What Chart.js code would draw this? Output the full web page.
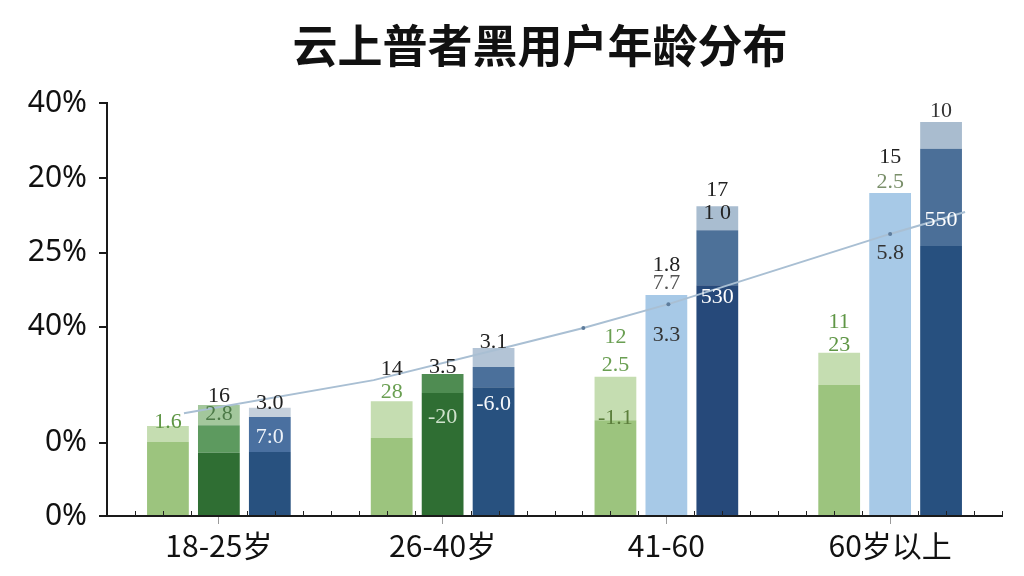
<!DOCTYPE html>
<html>
<head>
<meta charset="utf-8">
<script src="https://cdn.jsdelivr.net/npm/chart.js@4.4.1/dist/chart.umd.min.js"></script>
<style>
  html, body { margin: 0; padding: 0; background: #ffffff; }
  #wrap { width: 1024px; height: 576px; }
</style>
</head>
<body>
<div id="wrap"><canvas id="c" width="1024" height="576"></canvas></div>
<script>
// ---------------- data ----------------
const chartTitle = '云上普者黑用户年龄分布';
const categories = ['18-25岁', '26-40岁', '41-60', '60岁以上'];

// y axis tick values (0-100 axis units) and their printed labels
const tickValues = [0, 17.7, 45.8, 63.7, 81.8, 100];
const tickLabels = ['0%', '0%', '40%', '25%', '20%', '40%'];

// bar A (first bar of each group)
const barABase = [17.9, 18.9, 23.2, 31.7];
const barACap  = [3.9, 8.9, 10.5, 7.8];
// bar B (second bar)
const barBBase = [15.3, 29.8, 53.5, 78.2];
const barBMid  = [6.7, 0, 0, 0];
const barBCap  = [4.9, 4.6, 0, 0];
// bar C (third bar)
const barCBase = [15.5, 31.2, 55.9, 65.4];
const barCMid  = [8.5, 4.9, 13.3, 23.5];
const barCCap  = [2.2, 4.6, 5.8, 6.5];

// trend line (x in category index units)
const lineX = [-0.156, 0.692, 1.29, 1.629, 2.009, 3.0, 3.335];
const lineY = [24.9, 32.9, 40.9, 45.5, 51.3, 68.3, 73.6];

// value labels printed on the bars
const labelsA = [['1.6'], ['14', '28'], ['12', '2.5', '-1.1'], ['11', '23']];
const labelsB = [['16', '2.8'], ['3.5', '-20'], ['1.8', '7.7', '3.3'], ['15', '2.5', '5.8']];
const labelsC = [['3.0', '7:0'], ['3.1', '-6.0'], ['17', '1 0', '530'], ['10', '550']];

// ---------------- styles ----------------
const offsetsA = [[-4], [-32, -9], [-40, -12, 41], [-31, -8]];
const offsetsB = [[-9, 9], [-7, 43], [-30, -12, 40], [-36, -11, 60]];
const offsetsC = [[-5, 29], [-6, 56], [-16, 7, 91], [-11, 98]];
const colorsA = [['#5f9645'], ['#222', '#6a9f52'], ['#6a9f52', '#6a9f52', '#5c7e3c'], ['#5f9645', '#5f9645']];
const colorsB = [['#222', '#4d7a48'], ['#222', '#cfe2cc'], ['#222', '#555', '#333'], ['#222', '#7a8f6a', '#333']];
const colorsC = [['#222', '#eef3f9'], ['#222', '#f4f7fb'], ['#222', '#222', '#ffffff'], ['#333', '#ffffff']];

const colABase = ['#9cc47e', '#9cc47e', '#9cc47e', '#9cc47e'];
const colACap  = ['#c5ddb1', '#c5ddb1', '#c5ddb1', '#c5ddb1'];
const colBBase = ['#2f6e33', '#2f6e33', '#a7c9e7', '#a7c9e7'];
const colBMid  = ['#5d9a5f', '#5d9a5f', '#a7c9e7', '#a7c9e7'];
const colBCap  = ['#a3c79c', '#4f8c52', '#a7c9e7', '#a7c9e7'];
const colCBase = ['#28517f', '#28517f', '#26497a', '#27507f'];
const colCMid  = ['#4a70a0', '#4b709b', '#4d7199', '#4b6f98'];
const colCCap  = ['#c5d0dc', '#b3c4d6', '#a9bdd0', '#a9bccf'];

const toPoints = vals => vals.map((v, i) => ({ x: i, y: v }));
const ds = (vals, bg, stack) => ({
  type: 'bar', data: toPoints(vals), backgroundColor: bg, stack, order: 1,
  borderWidth: 0, xAxisID: 'x', yAxisID: 'y'
});

const titlePlugin = {
  id: 'titlePlugin',
  afterDraw(chart) {
    const ctx = chart.ctx;
    ctx.save();
    ctx.font = 'bold 45px "Noto Sans CJK SC", sans-serif';
    ctx.fillStyle = '#111';
    ctx.textAlign = 'center';
    ctx.textBaseline = 'middle';
    ctx.fillText(chartTitle, 540, 46);
    ctx.restore();
  }
};

const minorTicks = {
  id: 'minorTicks',
  afterDraw(chart) {
    const sx = chart.scales.x;
    const ctx = chart.ctx;
    const y = chart.chartArea.bottom;
    ctx.save();
    ctx.strokeStyle = '#222';
    ctx.lineWidth = 1;
    for (let v = -0.5; v <= 3.5001; v += 0.125) {
      if (Math.abs(v - Math.round(v)) < 0.01 || v < -0.49) continue;
      const px = Math.round(sx.getPixelForValue(v)) + 0.5;
      ctx.beginPath();
      ctx.moveTo(px, y);
      ctx.lineTo(px, y - 5);
      ctx.stroke();
    }
    ctx.restore();
  }
};

const barLabels = {
  id: 'barLabels',
  afterDatasetsDraw(chart) {
    const ctx = chart.ctx;
    ctx.save();
    ctx.font = '22px "Liberation Serif", "DejaVu Serif", serif';
    ctx.textAlign = 'center';
    ctx.textBaseline = 'middle';
    const groups = [
      { cap: 1, texts: labelsA, offs: offsetsA, cols: colorsA },
      { cap: 4, texts: labelsB, offs: offsetsB, cols: colorsB },
      { cap: 7, texts: labelsC, offs: offsetsC, cols: colorsC }
    ];
    groups.forEach(g => {
      const meta = chart.getDatasetMeta(g.cap);
      meta.data.forEach((el, i) => {
        g.texts[i].forEach((t, k) => {
          ctx.fillStyle = g.cols[i][k];
          ctx.fillText(t, el.x, el.y + g.offs[i][k]);
        });
      });
    });
    ctx.restore();
  }
};

new Chart(document.getElementById('c'), {
  type: 'bar',
  data: {
    datasets: [
      ds(barABase, colABase, 'a'),
      ds(barACap, colACap, 'a'),
      ds(barBBase, colBBase, 'b'),
      ds(barBMid, colBMid, 'b'),
      ds(barBCap, colBCap, 'b'),
      ds(barCBase, colCBase, 'c'),
      ds(barCMid, colCMid, 'c'),
      ds(barCCap, colCCap, 'c'),
      {
        type: 'line',
        data: lineX.map((x, i) => ({ x, y: lineY[i] })),
        xAxisID: 'x', yAxisID: 'y2', order: 0,
        borderColor: '#a9bfd3', borderWidth: 2,
        pointRadius: [0, 0, 0, 2, 2, 2, 0],
        pointBackgroundColor: '#5d7c9c', pointBorderWidth: 0,
        tension: 0, fill: false
      }
    ]
  },
  options: {
    responsive: false,
    animation: false,
    devicePixelRatio: 1,
    datasets: { bar: { categoryPercentage: 0.683, barPercentage: 0.82 } },
    layout: { padding: { left: 0, right: 22, top: 103, bottom: 0 } },
    plugins: { legend: { display: false }, title: { display: false }, tooltip: { enabled: false } },
    scales: {
      x: {
        type: 'linear', stacked: true, offset: false, min: -0.5, max: 3.5,
        afterBuildTicks(s) { s.ticks = categories.map((c, i) => ({ value: i })); },
        grid: { drawOnChartArea: false, drawTicks: true, offset: false, tickLength: 8, color: '#9a9a9a', lineWidth: 1 },
        border: { display: true, color: '#1a1a1a', width: 2 },
        ticks: {
          color: '#111', padding: 4, autoSkip: false, maxRotation: 0,
          font: { family: '"Noto Sans CJK SC", sans-serif', size: 30 },
          callback(v) { return categories[Math.round(v)]; }
        },
        afterFit(s) { s.height = 60; }
      },
      y: {
        type: 'linear', stacked: true, min: 0, max: 100,
        afterBuildTicks(s) { s.ticks = tickValues.map(v => ({ value: v })); },
        grid: { drawOnChartArea: false, drawTicks: true, tickLength: 8, color: '#1a1a1a', lineWidth: 2 },
        border: { display: true, color: '#1a1a1a', width: 2 },
        ticks: {
          color: '#111', padding: 12,
          font: { family: '"Noto Sans", sans-serif', size: 30 },
          callback(v, i) { return tickLabels[i]; }
        },
        afterFit(s) { s.width = 107; }
      },
      y2: { type: 'linear', display: false, min: 0, max: 100 }
    }
  },
  plugins: [titlePlugin, minorTicks, barLabels]
});
</script>
</body>
</html>
